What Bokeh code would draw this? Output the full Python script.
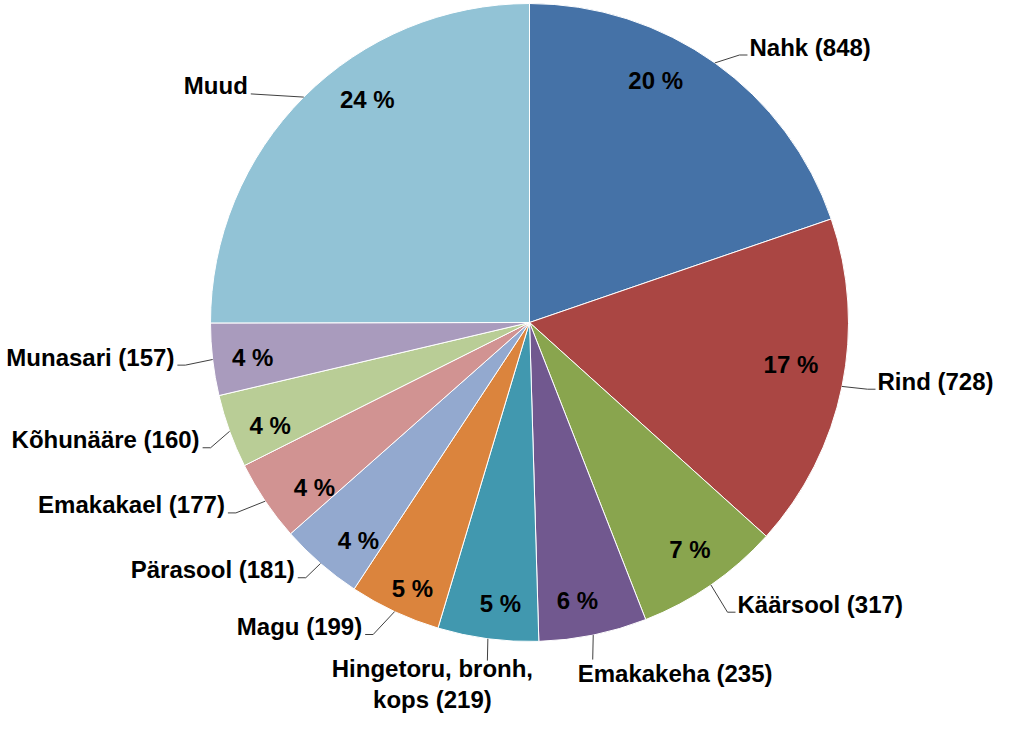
import math
from bokeh.plotting import figure
from bokeh.models import Range1d, ColumnDataSource
from bokeh.core.properties import value
from bokeh.embed import file_html
from bokeh.resources import INLINE

# ---------------- data ----------------
categories = ["Nahk", "Rind", "Käärsool", "Emakakeha", "Hingetoru, bronh,\nkops",
              "Magu", "Pärasool", "Emakakael", "Kõhunääre", "Munasari", "Muud"]
counts = [848, 728, 317, 235, 219, 199, 181, 177, 160, 157, 1075]
show_count = [True, True, True, True, True, True, True, True, True, True, False]
pct_labels = ["20 %", "17 %", "7 %", "6 %", "5 %", "5 %", "4 %", "4 %", "4 %", "4 %", "24 %"]
colors = ["#4572A7", "#AA4643", "#89A54E", "#71588F", "#4198AF", "#DB843D",
          "#93A9CF", "#D19392", "#B9CD96", "#A99BBD", "#92C3D6"]

# ---------------- layout ----------------
W, H = 995, 715
OFF = 8
CX, CY, R = 537, 330, 319          # page-pixel centre and radius of the pie
FONT = value("Liberation Sans")
FS = "24px"

# percentage label placement (radius factor, angular nudge in degrees)
pct_rf = [0.856, 0.83, 0.87, 0.885, 0.887, 0.91, 0.87, 0.85, 0.875, 0.875, 0.865]
pct_da = [-8.0, -2.5, -0.65, 1.75, -1.6, -1.25, -2.85, -3.45, -1.8, -0.55, 9.05]
# leader elbow placement (radius factor, angular nudge) and side of the label
lead_rf = [1.066, 1.08, 1.10, 1.075, 1.068, 1.094, 1.064, 1.097, 1.074, 1.087, 1.13]
lead_da = [2.6, -0.4, 0.3, 0.9, -0.4, 1.6, 0.3, 1.1, -1.5, -0.4, -5.6]
side = ["R", "R", "R", "BR", "BL", "L", "L", "L", "L", "L", "L"]
seg = [8, 8, 8, 0, 0, 8, 8, 8, 8, 8, 0]

p = figure(width=W, height=H, x_range=Range1d(OFF, OFF + W), y_range=Range1d(-(OFF + H), -OFF),
           output_backend="svg", toolbar_location=None, min_border=0)
p.outline_line_color = None
p.axis.visible = False
p.grid.visible = False
p.background_fill_color = "white"
p.border_fill_color = "white"


def pt(a_deg, rad):
    a = math.radians(a_deg)
    return CX + rad * math.sin(a), -(CY - rad * math.cos(a))


total = float(sum(counts))
starts, ends, mids = [], [], []
cum = 0.0
for c in counts:
    a0 = cum / total * 360.0
    cum += c
    a1 = cum / total * 360.0
    starts.append(math.radians(90.0 - a1))
    ends.append(math.radians(90.0 - a0))
    mids.append((a0 + a1) / 2.0)

src = ColumnDataSource(dict(start=starts, end=ends, color=colors))
p.wedge(x=CX, y=-CY, radius=R, start_angle="start", end_angle="end",
        fill_color="color", line_color="white", line_width=1, source=src)

# percentage labels
px, py = [], []
for i, m in enumerate(mids):
    x, y = pt(m + pct_da[i], R * pct_rf[i])
    px.append(x)
    py.append(y)
p.text(x=px, y=py, text=pct_labels, text_align="center", text_baseline="middle",
       text_font=FONT, text_font_style="bold", text_font_size=FS, text_color="black")

# leader lines and category labels
xs, ys = [], []
for i, m in enumerate(mids):
    x0, y0 = pt(m, R)
    x1, y1 = pt(m + lead_da[i], R * lead_rf[i])
    s = side[i]
    if s == "R":
        x2 = x1 + seg[i]
    elif s == "L":
        x2 = x1 - seg[i]
    else:
        x2 = x1
    xs.append([x0, x1, x2])
    ys.append([y0, y1, y1])
    txt = categories[i] + (" (%d)" % counts[i] if show_count[i] else "")
    lh = 1.2
    if s == "R":
        tx, ty, al, bl = x2 + 2, y1 + 8, "left", "middle"
    elif s == "L":
        tx, ty, al, bl = x2 - 3, y1 + 8, "right", "middle"
    elif s == "BR":
        tx, ty, al, bl = x1 - 15, y1, "left", "top"
    else:
        tx, ty, al, bl = x1 - 55, y1 + 6, "center", "top"
        lh = 1.15
    p.text(x=[tx], y=[ty], text=[txt], text_align=al, text_baseline=bl,
           text_font=FONT, text_font_style="bold", text_font_size=FS,
           text_color="black", text_line_height=lh)

p.multi_line(xs=xs, ys=ys, line_color="#404040", line_width=1)

open("out.html", "w").write(file_html(p, INLINE))
